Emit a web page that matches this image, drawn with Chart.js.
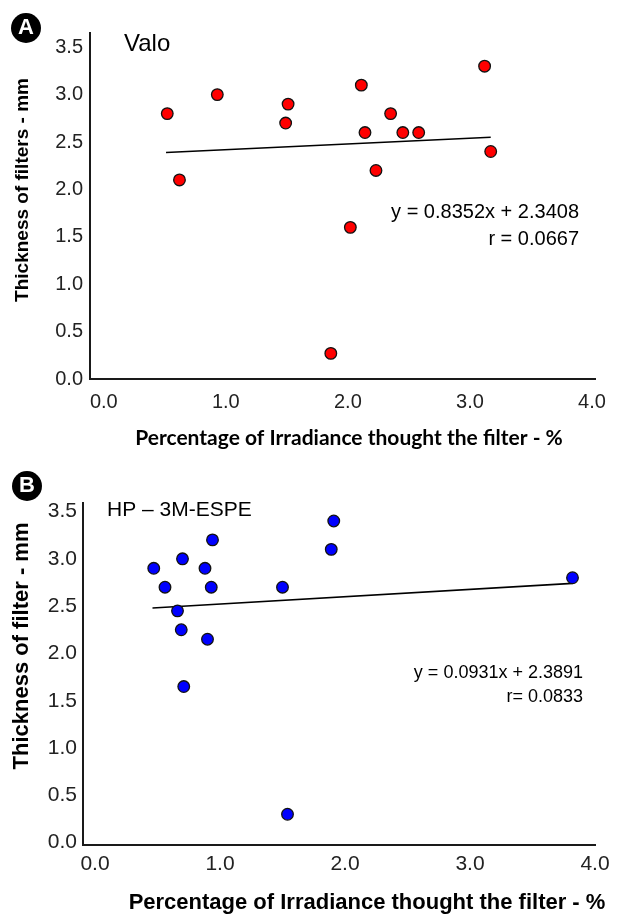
<!DOCTYPE html>
<html>
<head>
<meta charset="utf-8">
<script src="https://cdn.jsdelivr.net/npm/chart.js@4.4.1/dist/chart.umd.min.js"></script>
<style>
  body { margin: 0; background: #fff; width: 617px; height: 915px; position: relative; overflow: hidden; }
  canvas { position: absolute; left: 0; }
  #chartA { top: 0; }
  #chartB { top: 455px; }
</style>
</head>
<body>
<canvas id="chartA" width="617" height="455"></canvas>
<canvas id="chartB" width="617" height="460"></canvas>
<script>
// tick values shared by both panels
const xTicks = [0, 1, 2, 3, 4];
const yTicks = [0, 0.5, 1, 1.5, 2, 2.5, 3, 3.5];

// Panel A - Valo
const valoIrradiance = [0.52, 0.62, 0.93, 1.51, 1.49, 1.86, 2.02, 2.11, 2.14, 2.23, 2.35, 2.45, 2.58, 3.12, 3.17];
const valoThickness = [2.8, 2.1, 3.0, 2.9, 2.7, 0.27, 1.6, 3.1, 2.6, 2.2, 2.8, 2.6, 2.6, 3.3, 2.4];
const valoTrendX = [0.51, 3.17];
const valoTrendY = [2.39, 2.55];

// Panel B - HP 3M-ESPE
const hpIrradiance = [0.47, 0.56, 0.66, 0.70, 0.69, 0.71, 0.88, 0.93, 0.90, 0.94, 1.50, 1.54, 1.89, 1.91, 3.82];
const hpThickness = [2.9, 2.7, 2.45, 3.0, 2.25, 1.65, 2.9, 2.7, 2.15, 3.2, 2.7, 0.3, 3.1, 3.4, 2.8];
const hpTrendX = [0.46, 3.82];
const hpTrendY = [2.48, 2.74];

const xTitle = 'Percentage of Irradiance thought the filter - %';

// Pair up x and y arrays into points
function toPoints(xs, ys) {
    return xs.map((x, i) => ({ x: x, y: ys[i] }));
}

// Draws panel letters, labels, equations and axis titles
const panelText = {
    id: 'panelText',
    afterDraw(chart, args, opts) {
        const ctx = chart.ctx;
        opts.items.forEach(t => {
            ctx.save();
            ctx.translate(t.x, t.y);
            if (t.rotate) ctx.rotate(t.rotate);
            if (t.circle) {
                ctx.beginPath();
                ctx.arc(0, 0, t.circle, 0, Math.PI * 2);
                ctx.fillStyle = '#000';
                ctx.fill();
            }
            ctx.font = t.font;
            ctx.fillStyle = t.color || '#000';
            ctx.textAlign = t.align || 'center';
            ctx.textBaseline = t.baseline || 'middle';
            ctx.fillText(t.text, 0, 0);
            ctx.restore();
        });
    }
};

// Build one scatter panel
function makePanel(id, p) {
    const ctx = document.getElementById(id).getContext('2d');
    return new Chart(ctx, {
        type: 'scatter',
        data: {
            datasets: [{
                data: toPoints(p.xs, p.ys),
                backgroundColor: p.color,
                borderColor: '#111',
                borderWidth: 1.3,
                pointRadius: 5.8,
                order: 0,
                clip: false
            }, {
                type: 'line',
                data: toPoints(p.trendX, p.trendY),
                borderColor: '#000',
                borderWidth: 1.6,
                pointRadius: 0,
                fill: false,
                order: 1
            }]
        },
        plugins: [panelText],
        options: {
            responsive: false,
            animation: false,
            layout: { padding: p.padding },
            plugins: {
                legend: { display: false },
                tooltip: { enabled: false },
                panelText: { items: p.texts }
            },
            scales: {
                x: {
                    type: 'linear',
                    min: p.xMin,
                    max: p.xMax,
                    afterBuildTicks: s => { s.ticks = xTicks.map(v => ({ value: v })); },
                    afterFit: s => { s.height = p.xHeight; },
                    grid: { display: false, drawTicks: false },
                    border: { display: true, color: '#1a1a1a', width: 2 },
                    ticks: {
                        padding: p.xPad,
                        color: '#222',
                        font: { family: 'Liberation Sans', size: p.tickSize },
                        callback: v => v.toFixed(1)
                    }
                },
                y: {
                    type: 'linear',
                    min: p.yMin,
                    max: p.yMax,
                    afterBuildTicks: s => { s.ticks = yTicks.map(v => ({ value: v })); },
                    afterFit: s => { s.width = p.yWidth; },
                    grid: { display: false, drawTicks: false },
                    border: { display: true, color: '#1a1a1a', width: 2 },
                    ticks: {
                        padding: p.yPad,
                        color: '#222',
                        font: { family: 'Liberation Sans', size: p.tickSize },
                        callback: v => v.toFixed(1)
                    }
                }
            }
        }
    });
}

makePanel('chartA', {
    xs: valoIrradiance, ys: valoThickness,
    trendX: valoTrendX, trendY: valoTrendY,
    color: '#ff0000',
    xMin: -0.113, xMax: 4.03, yMin: 0, yMax: 3.65,
    padding: { left: 0, right: 13, top: 33, bottom: 0 },
    xHeight: 76, yWidth: 90, xPad: 11, yPad: 7, tickSize: 20,
    texts: [
        { text: 'A', x: 26, y: 28, circle: 15, color: '#fff', font: 'bold 22px "Liberation Sans"' },
        { text: 'Valo', x: 124, y: 51, align: 'left', baseline: 'alphabetic', font: '24px "Liberation Sans"' },
        { text: 'y = 0.8352x + 2.3408', x: 579, y: 212, align: 'right', font: '20px "Liberation Sans"' },
        { text: 'r = 0.0667', x: 579, y: 239, align: 'right', font: '20px "Liberation Sans"' },
        { text: 'Thickness of filters - mm', x: 23, y: 190, rotate: -Math.PI / 2, font: 'bold 19px "Liberation Sans"' },
        { text: xTitle, x: 349, y: 438, font: 'bold 21px Lato' }
    ]
});

makePanel('chartB', {
    xs: hpIrradiance, ys: hpThickness,
    trendX: hpTrendX, trendY: hpTrendY,
    color: '#0000ff',
    xMin: -0.096, xMax: 4.0, yMin: -0.025, yMax: 3.59,
    padding: { left: 0, right: 22, top: 48, bottom: 0 },
    xHeight: 70, yWidth: 83, xPad: 7, yPad: 6, tickSize: 21,
    texts: [
        { text: 'B', x: 27, y: 31, circle: 15, color: '#fff', font: 'bold 22px "Liberation Sans"' },
        { text: 'HP \u2013 3M-ESPE', x: 107, y: 61, align: 'left', baseline: 'alphabetic', font: '21px "Liberation Sans"' },
        { text: 'y = 0.0931x + 2.3891', x: 583, y: 218, align: 'right', font: '18px "Liberation Sans"' },
        { text: 'r= 0.0833', x: 583, y: 242, align: 'right', font: '18px "Liberation Sans"' },
        { text: 'Thickness of filter - mm', x: 22, y: 191, rotate: -Math.PI / 2, font: 'bold 22px "Liberation Sans"' },
        { text: xTitle, x: 367, y: 448, font: 'bold 22px "Liberation Sans"' }
    ]
});
</script>
</body>
</html>
